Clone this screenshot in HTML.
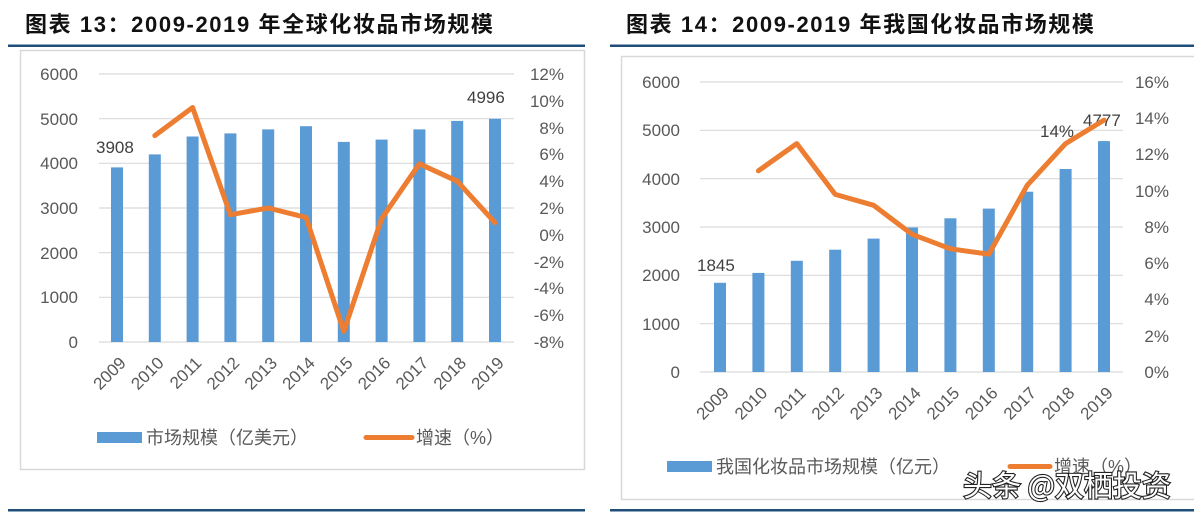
<!DOCTYPE html>
<html><head><meta charset="utf-8"><style>
html,body{margin:0;padding:0;background:#fff;}
svg{display:block;font-family:"Liberation Sans","Noto Sans CJK SC",sans-serif;}
</style></head><body>
<svg width="1194" height="512" viewBox="0 0 1194 512" xmlns="http://www.w3.org/2000/svg">
<!-- titles -->
<text x="25" y="32" font-size="22" font-weight="bold" fill="#111" letter-spacing="1.6">图表 13：2009-2019 年全球化妆品市场规模</text>
<text x="626" y="32" font-size="22" font-weight="bold" fill="#111" letter-spacing="1.6">图表 14：2009-2019 年我国化妆品市场规模</text>
<rect x="8" y="44.5" width="577" height="2.5" fill="#1f4e79"/>
<rect x="610" y="44.5" width="584" height="2.5" fill="#1f4e79"/>
<rect x="8" y="509" width="577" height="2.5" fill="#1f4e79"/>
<rect x="610" y="509" width="584" height="2.5" fill="#1f4e79"/>
<!-- boxes -->
<rect x="20.5" y="50.5" width="564" height="419" fill="none" stroke="#d9d9d9" stroke-width="1.5"/>
<rect x="621.5" y="56.5" width="580" height="443" fill="none" stroke="#d9d9d9" stroke-width="1.5"/>

<!-- LEFT CHART -->
<g stroke="#d9d9d9" stroke-width="1.2">
<line x1="99" y1="74" x2="514" y2="74"/><line x1="99" y1="118.7" x2="514" y2="118.7"/>
<line x1="99" y1="163.3" x2="514" y2="163.3"/><line x1="99" y1="208" x2="514" y2="208"/>
<line x1="99" y1="252.7" x2="514" y2="252.7"/><line x1="99" y1="297.3" x2="514" y2="297.3"/>
<line x1="99" y1="342" x2="514" y2="342"/>
</g>
<g font-size="17" fill="#595959" text-anchor="end">
<text x="78" y="80">6000</text><text x="78" y="125">5000</text><text x="78" y="169">4000</text>
<text x="78" y="214">3000</text><text x="78" y="259">2000</text><text x="78" y="303">1000</text><text x="78" y="348">0</text>
</g>
<g font-size="17" fill="#595959" text-anchor="end">
<text x="564" y="80">12%</text><text x="564" y="107">10%</text><text x="564" y="134">8%</text>
<text x="564" y="160">6%</text><text x="564" y="187">4%</text><text x="564" y="214">2%</text>
<text x="564" y="241">0%</text><text x="564" y="268">-2%</text><text x="564" y="294">-4%</text>
<text x="564" y="321">-6%</text><text x="564" y="348">-8%</text>
</g>
<g fill="#5b9bd5">
<rect x="111" y="167.4" width="12" height="174.6"/><rect x="148.8" y="154.4" width="12" height="187.6"/>
<rect x="186.6" y="136.5" width="12" height="205.5"/><rect x="224.4" y="133.4" width="12" height="208.6"/>
<rect x="262.2" y="129.4" width="12" height="212.6"/><rect x="300" y="126.2" width="12" height="215.8"/>
<rect x="337.8" y="141.9" width="12" height="200.1"/><rect x="375.6" y="139.6" width="12" height="202.4"/>
<rect x="413.4" y="129.4" width="12" height="212.6"/><rect x="451.2" y="120.9" width="12" height="221.1"/>
<rect x="489" y="118.8" width="12" height="223.2"/>
</g>
<polyline points="154.8,135.6 192.6,107.5 230.4,214.7 268.2,208 306,217.4 343.8,331.3 381.6,218.7 419.4,163.8 457.2,181.2 495,222.7" fill="none" stroke="#ed7d31" stroke-width="5" stroke-linejoin="round" stroke-linecap="round"/>
<g font-size="17" fill="#404040">
<text x="96" y="153">3908</text><text x="467" y="103">4996</text>
</g>
<g font-size="17" fill="#595959" text-anchor="end">
<text transform="translate(127,364) rotate(-45)">2009</text>
<text transform="translate(164.8,364) rotate(-45)">2010</text>
<text transform="translate(202.6,364) rotate(-45)">2011</text>
<text transform="translate(240.4,364) rotate(-45)">2012</text>
<text transform="translate(278.2,364) rotate(-45)">2013</text>
<text transform="translate(316,364) rotate(-45)">2014</text>
<text transform="translate(353.8,364) rotate(-45)">2015</text>
<text transform="translate(391.6,364) rotate(-45)">2016</text>
<text transform="translate(429.4,364) rotate(-45)">2017</text>
<text transform="translate(467.2,364) rotate(-45)">2018</text>
<text transform="translate(505,364) rotate(-45)">2019</text>
</g>
<rect x="97" y="432" width="45" height="11" fill="#5b9bd5"/>
<text x="146" y="444" font-size="18" fill="#595959">市场规模（亿美元）</text>
<line x1="366" y1="437.5" x2="412" y2="437.5" stroke="#ed7d31" stroke-width="5" stroke-linecap="round"/>
<text x="416" y="444" font-size="18" fill="#595959">增速（%）</text>

<!-- RIGHT CHART -->
<g stroke="#d9d9d9" stroke-width="1.2">
<line x1="700" y1="82" x2="1123" y2="82"/><line x1="700" y1="130.3" x2="1123" y2="130.3"/>
<line x1="700" y1="178.7" x2="1123" y2="178.7"/><line x1="700" y1="227" x2="1123" y2="227"/>
<line x1="700" y1="275.3" x2="1123" y2="275.3"/><line x1="700" y1="323.7" x2="1123" y2="323.7"/>
<line x1="700" y1="372" x2="1123" y2="372"/>
</g>
<g font-size="17" fill="#595959" text-anchor="end">
<text x="680" y="88">6000</text><text x="680" y="136">5000</text><text x="680" y="185">4000</text>
<text x="680" y="233">3000</text><text x="680" y="281">2000</text><text x="680" y="330">1000</text><text x="680" y="378">0</text>
</g>
<g font-size="17" fill="#595959" text-anchor="end">
<text x="1169" y="88">16%</text><text x="1169" y="124">14%</text><text x="1169" y="160">12%</text>
<text x="1169" y="197">10%</text><text x="1169" y="233">8%</text><text x="1169" y="269">6%</text>
<text x="1169" y="305">4%</text><text x="1169" y="342">2%</text><text x="1169" y="378">0%</text>
</g>
<g fill="#5b9bd5">
<rect x="714" y="282.8" width="12" height="89.2"/><rect x="752.4" y="272.9" width="12" height="99.1"/>
<rect x="790.8" y="260.8" width="12" height="111.2"/><rect x="829.2" y="249.7" width="12" height="122.3"/>
<rect x="867.6" y="238.6" width="12" height="133.4"/><rect x="906" y="227.5" width="12" height="144.5"/>
<rect x="944.4" y="218.3" width="12" height="153.7"/><rect x="982.8" y="208.6" width="12" height="163.4"/>
<rect x="1021.2" y="191.7" width="12" height="180.3"/><rect x="1059.6" y="169" width="12" height="203"/>
<rect x="1098" y="141.1" width="12" height="230.9"/>
</g>
<g font-size="17" fill="#404040">
<text x="1040" y="137">14%</text><text x="1083" y="126">4777</text>
</g>
<polyline points="758.4,170.8 796.8,143.6 835.2,194.4 873.6,205.3 912,234.3 950.4,248.8 988.8,254.2 1027.2,185.3 1065.6,143.6 1104,120.1" fill="none" stroke="#ed7d31" stroke-width="5" stroke-linejoin="round" stroke-linecap="round"/>
<text x="697" y="271" font-size="17" fill="#404040">1845</text>
<g font-size="17" fill="#595959" text-anchor="end">
<text transform="translate(730,394) rotate(-45)">2009</text>
<text transform="translate(768.4,394) rotate(-45)">2010</text>
<text transform="translate(806.8,394) rotate(-45)">2011</text>
<text transform="translate(845.2,394) rotate(-45)">2012</text>
<text transform="translate(883.6,394) rotate(-45)">2013</text>
<text transform="translate(922,394) rotate(-45)">2014</text>
<text transform="translate(960.4,394) rotate(-45)">2015</text>
<text transform="translate(998.8,394) rotate(-45)">2016</text>
<text transform="translate(1037.2,394) rotate(-45)">2017</text>
<text transform="translate(1075.6,394) rotate(-45)">2018</text>
<text transform="translate(1114,394) rotate(-45)">2019</text>
</g>
<rect x="667" y="461" width="45" height="11" fill="#5b9bd5"/>
<text x="716" y="473" font-size="18" fill="#595959">我国化妆品市场规模（亿元）</text>
<line x1="1010" y1="466.5" x2="1050" y2="466.5" stroke="#ed7d31" stroke-width="5" stroke-linecap="round"/>
<text x="1054" y="473" font-size="18" fill="#595959">增速（%）</text>
<!-- watermark -->
<text x="963" y="496" font-size="29" fill="#fff" stroke="#222" stroke-width="2.2" paint-order="stroke" font-family="'Noto Sans CJK SC',sans-serif">头条 @双栖投资</text>
</svg>
</body></html>
